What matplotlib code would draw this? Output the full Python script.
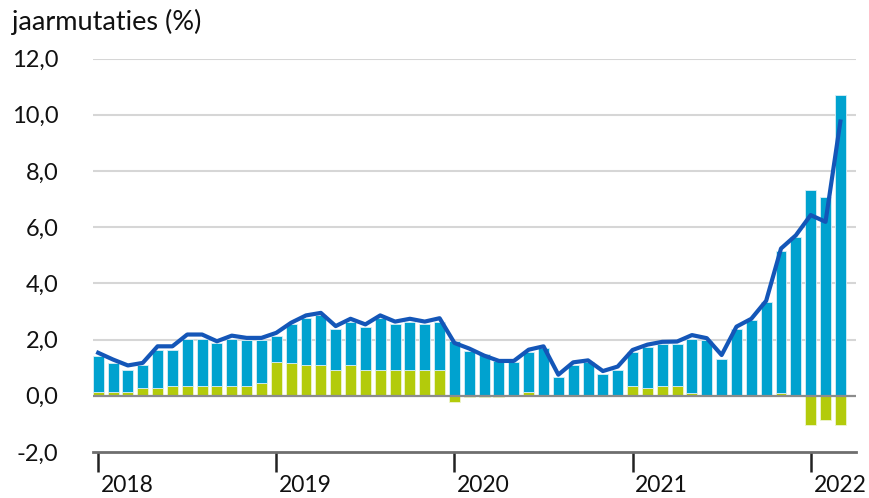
import numpy as np
import matplotlib
matplotlib.use("Agg")
import matplotlib.pyplot as plt

plt.rcParams["font.family"] = ["Lato", "DejaVu Sans"]

# maanden jan 2018 t/m mrt 2022
jaren = ["2018", "2019", "2020", "2021", "2022"]

groen = [0.12, 0.12, 0.12, 0.29, 0.29, 0.36, 0.36, 0.36, 0.36, 0.36, 0.36, 0.45,
         1.19, 1.17, 1.10, 1.10, 0.93, 1.10, 0.93, 0.93, 0.93, 0.93, 0.93, 0.93,
         -0.22, -0.05, -0.05, -0.04, 0.02, 0.12, 0.03, 0.03, 0.03, 0.03, 0.03, 0.03,
         0.34, 0.27, 0.34, 0.34, 0.10, 0.02, 0.02, 0.02, 0.02, 0.02, 0.10, 0.02,
         -1.04, -0.86, -1.04]

blauw = [1.28, 1.05, 0.81, 0.79, 1.35, 1.28, 1.66, 1.66, 1.52, 1.66, 1.62, 1.53,
         0.93, 1.37, 1.67, 1.76, 1.45, 1.54, 1.52, 1.84, 1.61, 1.71, 1.61, 1.71,
         1.95, 1.60, 1.48, 1.23, 1.17, 1.43, 1.67, 0.64, 1.07, 1.16, 0.73, 0.90,
         1.23, 1.45, 1.51, 1.52, 1.93, 1.98, 1.30, 2.35, 2.68, 3.31, 5.05, 5.63,
         7.32, 7.08, 10.69]

totaal = [1.53, 1.29, 1.08, 1.17, 1.76, 1.76, 2.18, 2.18, 1.94, 2.14, 2.06, 2.06,
          2.24, 2.60, 2.86, 2.95, 2.48, 2.74, 2.54, 2.86, 2.64, 2.74, 2.64, 2.76,
          1.88, 1.68, 1.43, 1.24, 1.24, 1.64, 1.76, 0.75, 1.19, 1.26, 0.88, 1.04,
          1.63, 1.82, 1.92, 1.93, 2.16, 2.05, 1.45, 2.46, 2.74, 3.38, 5.24, 5.71,
          6.43, 6.19, 9.76]

x = np.arange(len(groen))
groen_arr = np.array(groen)
onder = np.maximum(groen_arr, 0)

fig = plt.figure(figsize=(8.69, 4.98), dpi=100)
ax = fig.add_axes([0.107, 0.0924, 0.878, 0.790])

for v in range(2, 13, 2):
    ax.axhline(v, color="#d6d6d6", lw=1.5, zorder=0)
ax.axhline(0, color="#8c8c8c", lw=1.6, zorder=3)

ax.bar(x, groen_arr, width=0.74, color="#b3cb0b", edgecolor="#eef5d0", lw=0.6, zorder=2)
ax.bar(x, blauw, width=0.74, bottom=onder, color="#00a2cf", edgecolor="#d8eef6", lw=0.6, zorder=2)
ax.plot(x, totaal, color="#1456b8", lw=3.0, zorder=4, solid_joinstyle="round")

ax.set_xlim(-0.35, 51.05)
ax.set_ylim(-2, 12)
ax.set_yticks(range(-2, 13, 2))
ax.set_yticklabels([f"{v:.1f}".replace(".", ",") for v in range(-2, 13, 2)])
ax.tick_params(axis="y", length=0, pad=25, labelsize=17, labelcolor="#111111")

ax.set_xticks([0, 12, 24, 36, 48])
ax.set_xticklabels([])
ax.tick_params(axis="x", length=14.5, width=1.8, color="#222222", direction="out")
for pos, jaar in zip([0, 12, 24, 36, 48], jaren):
    ax.annotate(jaar, xy=(pos, 0), xycoords=("data", "axes fraction"),
                xytext=(2, -16.5), textcoords="offset points",
                ha="left", va="top", fontsize=16.5, color="#111111")

for s in ["top", "left", "right"]:
    ax.spines[s].set_visible(False)
ax.spines["bottom"].set_color("#6e6e6e")
ax.spines["bottom"].set_linewidth(2)

fig.text(12 / 869, 1 - 30 / 498, "jaarmutaties (%)", fontsize=19.5,
         color="#111111", ha="left", va="baseline")

fig.savefig("out.png", dpi=100)
